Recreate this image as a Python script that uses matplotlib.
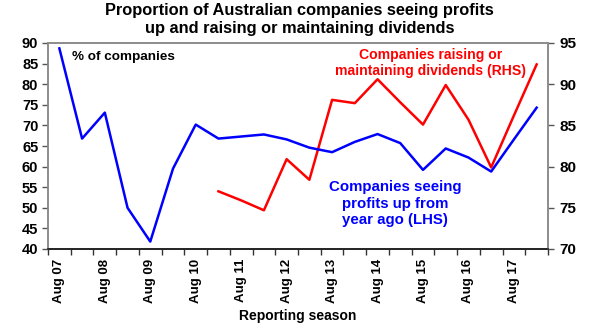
import numpy as np
import matplotlib
matplotlib.use("Agg")
import matplotlib.pyplot as plt

plt.rcParams['font.family'] = ['Liberation Sans', 'DejaVu Sans']
plt.rcParams['font.weight'] = 'bold'

# Half-yearly reporting seasons, Aug 07 to Feb 18
seasons = ["Aug 07", "Feb 08", "Aug 08", "Feb 09", "Aug 09", "Feb 10", "Aug 10",
           "Feb 11", "Aug 11", "Feb 12", "Aug 12", "Feb 13", "Aug 13", "Feb 14",
           "Aug 14", "Feb 15", "Aug 15", "Feb 16", "Aug 16", "Feb 17", "Aug 17",
           "Feb 18"]

# % of companies seeing profits up from a year ago (LHS)
profits_up = [88.7, 66.8, 73.1, 50.0, 41.8, 59.5, 70.2, 66.8, 67.3, 67.8, 66.6,
              64.6, 63.5, 66.0, 67.9, 65.7, 59.2, 64.4, 62.2, 58.8, 66.6, 74.3]

# % of companies raising or maintaining dividends (RHS)
dividends_up = [np.nan, np.nan, np.nan, np.nan, np.nan, np.nan, np.nan,
                77.0, 75.9, 74.7, 80.9, 78.4, 88.1, 87.7, 90.6, 87.8, 85.1,
                89.9, 85.7, 79.9, 86.2, 92.4]

left_ticks = [40, 45, 50, 55, 60, 65, 70, 75, 80, 85, 90]
right_ticks = [70, 75, 80, 85, 90, 95]

fig = plt.figure(figsize=(5.96, 3.28), dpi=100)
ax = fig.add_axes([48 / 596, 1 - 249 / 328, 500 / 596, 206 / 328])
ax2 = ax.twinx()

x = np.arange(len(seasons))
ax.plot(x, profits_up, color="#0000ff", lw=1.8, zorder=3)
ax2.plot(x, dividends_up, color="#ff0000", lw=1.8, zorder=3)
ax.set_zorder(ax2.get_zorder() + 1)
ax.patch.set_visible(False)

ax.set_xlim(-0.5, len(seasons) - 0.5)
ax.set_ylim(40, 90)
ax2.set_ylim(70, 95)
ax.set_yticks(left_ticks)
ax2.set_yticks(right_ticks)

# Tick marks on season boundaries, labels on August seasons
ax.set_xticks(np.arange(-0.5, len(seasons)), minor=False)
ax.set_xticklabels([])
aug_idx = [i for i, s in enumerate(seasons) if s.startswith("Aug")]
ax.set_xticks(aug_idx, minor=True)
ax.set_xticklabels([seasons[i] for i in aug_idx], minor=True, rotation=90,
                   fontsize=9.5, fontweight='bold')
ax.tick_params(axis='x', which='major', direction='out', length=4, width=1, color='#333333')
ax.tick_params(axis='x', which='minor', length=0, pad=7)

ax.tick_params(axis='y', direction='out', length=4, width=1, color='#555555',
               labelsize=10.5, pad=3)
ax2.tick_params(axis='y', direction='out', length=4, width=1, color='#555555',
                labelsize=11, pad=4)
for lab in ax.get_yticklabels() + ax2.get_yticklabels():
    lab.set_fontweight('bold')

for a in (ax, ax2):
    for side in ('top', 'left', 'right'):
        a.spines[side].set_color('#8c8c8c')
        a.spines[side].set_linewidth(1.2)
    a.spines['bottom'].set_color('#222222')
    a.spines['bottom'].set_linewidth(1.2)

ax.set_xlabel("Reporting season", fontsize=10, fontweight='bold', labelpad=4)

ax.text(0.048, 0.96, "% of companies", transform=ax.transAxes, fontsize=9.7,
        fontweight='bold', va='top', ha='left', color='black')

ax.text(0.765, 0.975, "Companies raising or\nmaintaining dividends (RHS)",
        transform=ax.transAxes, fontsize=10.1, fontweight='bold', color="#ff0000",
        ha='center', va='top', linespacing=1.2)

ax.text(0.694, 0.335, "Companies seeing\nprofits up from\nyear ago (LHS)",
        transform=ax.transAxes, fontsize=10.8, fontweight='bold', color="#0000ff",
        ha='center', va='top', linespacing=1.25)

fig.text(0.503, 0.99, "Proportion of Australian companies seeing profits\n"
         "up and raising or maintaining dividends",
         ha='center', va='top', fontsize=11.8, fontweight='bold', linespacing=1.2)

fig.savefig("out.png", dpi=100, facecolor='white')
